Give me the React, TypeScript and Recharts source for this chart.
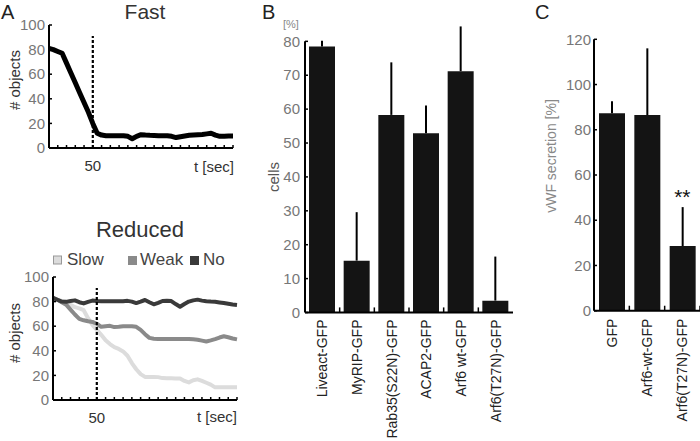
import React from 'react'
import {
  LineChart, Line, XAxis, YAxis, ReferenceLine, ReferenceDot,
  BarChart, Bar, ErrorBar,
} from 'recharts'

const FONT = '"Liberation Sans", Arial, sans-serif'

// ----- panel A: time course (t in sec) -----
const TIME = [
  25, 27.5, 30, 32.5, 35, 37.5, 40, 42.5, 45, 47.5,
  50, 52.5, 55, 57.5, 60, 62.5, 65, 67.5, 70, 72.5,
  75, 77.5, 80, 82.5, 85, 87.5, 90, 92.5, 95, 97.5,
  100, 102.5, 105, 107.5, 110, 112.5, 115, 117.5, 120, 122.5,
  125, 127.5, 130,
]
const TIME_TICKS = [25, 30, 35, 40, 45, 50, 55, 60, 65, 70, 75, 80, 85, 90, 95, 100, 105, 110, 115, 120, 125, 130]
const OBJ_TICKS = [0, 20, 40, 60, 80, 100]

const FAST = [
  81, 80, 78.5, 77, 69, 61, 53, 45, 37, 29,
  20, 12, 10.5, 10, 10, 10, 10, 10, 9.5, 7.5,
  9.5, 10.8, 10.5, 10.3, 10.2, 10, 10, 10, 9.5, 8.5,
  9.2, 9.8, 10.3, 10.6, 10.8, 11, 11.5, 12, 10.5, 9.5,
  9.5, 9.8, 9.8,
]
const SLOW = [
  83, 81.5, 80.5, 79.7, 77.5, 75.5, 74.5, 73, 66.5, 61,
  57, 53, 48.5, 45.5, 43, 41.5, 39.5, 36, 30, 25,
  21, 18.8, 18.7, 18.8, 18.6, 17.8, 17.7, 17.7, 17.5, 17.5,
  15.5, 14.3, 16, 16.8, 15.5, 14, 12.5, 10.3, 10.3, 10.3,
  10.3, 10.3, 10.3,
]
const WEAK = [
  83, 81.5, 79.5, 77.5, 73.5, 69.5, 66, 64.8, 64, 63.5,
  62, 59.5, 60, 60.3, 59.3, 59.5, 59.9, 60, 60, 59.5,
  57, 53.5, 50.5, 49.8, 49.6, 49.5, 49.5, 49.5, 49.5, 49.5,
  49.5, 49.5, 49.3, 49, 48.3, 47.6, 48.5, 49.5, 50.8, 51.8,
  51, 50, 49.3,
]
const NONE = [
  83, 81.5, 80, 79.8, 80.5, 81, 79.5, 78.5, 79.8, 80.8,
  80.5, 80.3, 80.3, 80.3, 80.3, 80.2, 80.3, 80.6, 80, 78.8,
  80, 81.3, 79.5, 77.8, 79, 80.5, 80.6, 80.4, 78, 75.8,
  78, 80, 81, 81.6, 80.8, 80.3, 80, 79.8, 79.3, 78.8,
  78.2, 77.6, 77.2,
]

// ----- panel B: cells [%] -----
const B_CATS = ['Liveact-GFP', 'MyRIP-GFP', 'Rab35(S22N)-GFP', 'ACAP2-GFP', 'Arf6 wt-GFP', 'Arf6(T27N)-GFP']
const B_VALUES = [78.5, 15.3, 58.3, 52.9, 71.2, 3.5]
const B_ERR_UP = [1.7, 14.3, 15.5, 8.2, 13.2, 13]
const B_TICKS = [0, 10, 20, 30, 40, 50, 60, 70, 80]

// ----- panel C: vWF secretion [%] -----
const C_CATS = ['GFP', 'Arf6-wt-GFP', 'Arf6(T27N)-GFP']
const C_VALUES = [87.3, 86.5, 28.6]
const C_ERR_UP = [5.3, 29.5, 17.2]
const C_TICKS = [0, 20, 40, 60, 80, 100, 120]

const COL_SLOW = '#dcdcdc'
const COL_WEAK = '#8a8a8a'
const COL_NO = '#3a3a3a'

const timeData = TIME.map((t, i) => ({ t, fast: FAST[i], slow: SLOW[i], weak: WEAK[i], no: NONE[i] }))
const bData = B_CATS.map((name, i) => ({ name, value: B_VALUES[i], err: [0, B_ERR_UP[i]] }))
const cData = C_CATS.map((name, i) => ({ name, value: C_VALUES[i], err: [0, C_ERR_UP[i]] }))

function TimeTick(props: any) {
  const { x, y, payload } = props
  return (
    <g>
      <line x1={x} y1={y} x2={x} y2={y - 3} stroke="#000" strokeWidth={1.5} />
      {payload.value === 50 && (
        <text x={x} y={y + 23} textAnchor="middle" fontSize={15} fill="#333" fontFamily={FONT}>50</text>
      )}
    </g>
  )
}

function yTick(gap: number, fill: string) {
  return (props: any) => {
    const { x, y, payload } = props
    const ax = x + gap
    return (
      <g>
        <line x1={ax} y1={y} x2={ax + 3} y2={y} stroke="#000" strokeWidth={1.5} />
        <text x={x} y={y} dy="0.35em" textAnchor="end" fontSize={15} fill={fill} fontFamily={FONT}>
          {payload.value}
        </text>
      </g>
    )
  }
}

function catTick(off: number) {
  return (props: any) => {
    const { x, y, payload } = props
    const yy = y + off
    return (
      <text x={x} y={yy} dy="0.35em" transform={`rotate(-90 ${x} ${yy})`} textAnchor="end"
        fontSize={14} fill="#222" fontFamily={FONT}>
        {payload.value}
      </text>
    )
  }
}

const axisStyle = { stroke: '#000', strokeWidth: 2 }

function TimePanel({ top, height, marginTop, yWidth, width, right, series }: any) {
  return (
    <div style={{ position: 'absolute', left: 0, top }}>
      <LineChart width={width} height={height} data={timeData} margin={{ top: marginTop, right, left: 0, bottom: 0 }}>
        <XAxis dataKey="t" type="number" domain={[25, 130]} ticks={TIME_TICKS} interval={0} height={27}
          tickLine={false} tickSize={0} tickMargin={0} axisLine={axisStyle} tick={TimeTick} />
        <YAxis type="number" domain={[0, 100]} ticks={OBJ_TICKS} width={yWidth} interval={0}
          tickLine={false} tickSize={0} tickMargin={4} axisLine={axisStyle} tick={yTick(4, '#777')} />
        {series.map((s: any) => (
          <Line key={s.key} dataKey={s.key} type="linear" stroke={s.color} strokeWidth={s.w}
            dot={false} strokeLinejoin="round" isAnimationActive={false} />
        ))}
        <ReferenceLine segment={[{ x: 50, y: 0 }, { x: 50, y: 91 }]} stroke="#000" strokeWidth={2.2}
          strokeDasharray="3 2" ifOverflow="visible" />
      </LineChart>
    </div>
  )
}

export default function App() {
  return (
    <div style={{ position: 'absolute', left: 0, top: 0, width: 700, height: 441, background: '#fff', overflow: 'hidden', fontFamily: FONT }}>
      <TimePanel top={0} height={175} marginTop={25} yWidth={49} width={240} right={7}
        series={[{ key: 'fast', color: '#000', w: 5 }]} />
      <TimePanel top={250} height={177} marginTop={27} yWidth={53} width={245} right={8}
        series={[
          { key: 'slow', color: COL_SLOW, w: 4 },
          { key: 'weak', color: COL_WEAK, w: 4 },
          { key: 'no', color: COL_NO, w: 4 },
        ]} />

      <div style={{ position: 'absolute', left: 240, top: 0 }}>
        <BarChart width={280} height={441} data={bData} margin={{ top: 21, right: 7, left: 0, bottom: 0 }} barSize={26}>
          <XAxis dataKey="name" type="category" height={128.5} interval={0} tickLine={false} tickSize={0}
            axisLine={axisStyle} tick={catTick(5)} />
          <YAxis type="number" domain={[0, 86]} ticks={B_TICKS} width={65} interval={0} axisLine={false}
            tickLine={false} tickSize={0} tickMargin={5} tick={yTick(5, '#777')} />
          <ReferenceLine segment={[{ x: B_CATS[0], y: 0 }, { x: B_CATS[0], y: 80 }]} position="start"
            stroke="#000" strokeWidth={2} ifOverflow="visible" />
          {B_CATS.slice(1).map(c => (
            <ReferenceLine key={c} segment={[{ x: c, y: 0 }, { x: c, y: 1.5 }]} position="start"
              stroke="#000" strokeWidth={1.5} ifOverflow="visible" />
          ))}
          <Bar dataKey="value" fill="#141414" isAnimationActive={false}>
            <ErrorBar dataKey="err" direction="y" width={0} stroke="#000" strokeWidth={2} isAnimationActive={false} />
          </Bar>
        </BarChart>
      </div>

      <div style={{ position: 'absolute', left: 520, top: 0 }}>
        <BarChart width={180} height={441} data={cData} margin={{ top: 39.3, right: 0, left: 0, bottom: 0 }} barSize={26}>
          <XAxis dataKey="name" type="category" height={130.3} interval={0} tickLine={false} tickSize={0}
            axisLine={axisStyle} tick={catTick(6)} />
          <YAxis type="number" domain={[0, 120]} ticks={C_TICKS} width={74} interval={0} axisLine={axisStyle}
            tickLine={false} tickSize={0} tickMargin={3} tick={yTick(3, '#777')} />
          {C_CATS.slice(1).map(c => (
            <ReferenceLine key={c} segment={[{ x: c, y: 0 }, { x: c, y: 2.2 }]} position="start"
              stroke="#000" strokeWidth={1.5} ifOverflow="visible" />
          ))}
          <ReferenceLine segment={[{ x: C_CATS[2], y: 0 }, { x: C_CATS[2], y: 2.2 }]} position="end"
            stroke="#000" strokeWidth={1.5} ifOverflow="visible" />
          <Bar dataKey="value" fill="#141414" isAnimationActive={false}>
            <ErrorBar dataKey="err" direction="y" width={0} stroke="#000" strokeWidth={2} isAnimationActive={false} />
          </Bar>
          <ReferenceDot x={C_CATS[2]} y={50.5} r={0} ifOverflow="visible"
            label={{ value: '**', position: 'center', fontSize: 21, fill: '#111', fontFamily: FONT }} />
        </BarChart>
      </div>

      <svg width={700} height={441} style={{ position: 'absolute', left: 0, top: 0, pointerEvents: 'none' }}
        fontFamily={FONT}>
        <text x={1} y={19} fontSize={20} fill="#222">A</text>
        <text x={145} y={19} fontSize={21} fill="#333" textAnchor="middle">Fast</text>
        <text x={20} y={80} fontSize={15} fill="#333" textAnchor="middle" transform="rotate(-90 20 80)"># objects</text>
        <text x={234} y={172} fontSize={15} fill="#333" textAnchor="end">t [sec]</text>

        <text x={140} y={237} fontSize={22} fill="#333" textAnchor="middle">Reduced</text>
        <rect x={53.5} y={256} width={8} height={8} fill={COL_SLOW} stroke="#999" strokeWidth={1} />
        <text x={67} y={265} fontSize={17} fill="#444">Slow</text>
        <rect x={128} y={256} width={9} height={9} fill={COL_WEAK} />
        <text x={140} y={265} fontSize={17} fill="#444">Weak</text>
        <rect x={190} y={256} width={9} height={9} fill={COL_NO} />
        <text x={203} y={265} fontSize={17} fill="#444">No</text>
        <text x={20} y={333} fontSize={15} fill="#333" textAnchor="middle" transform="rotate(-90 20 333)"># objects</text>
        <text x={237} y={421.5} fontSize={15} fill="#333" textAnchor="end">t [sec]</text>

        <text x={262} y={19} fontSize={20} fill="#222">B</text>
        <text x={283} y={28} fontSize={11} fill="#888">[%]</text>
        <text x={279} y={177} fontSize={15} fill="#555" textAnchor="middle" transform="rotate(-90 279 177)">cells</text>

        <text x={535} y={19} fontSize={20} fill="#222">C</text>
        <text x={556} y={156} fontSize={14} fill="#888" textAnchor="middle" transform="rotate(-90 556 156)">vWF secretion [%]</text>
      </svg>
    </div>
  )
}
